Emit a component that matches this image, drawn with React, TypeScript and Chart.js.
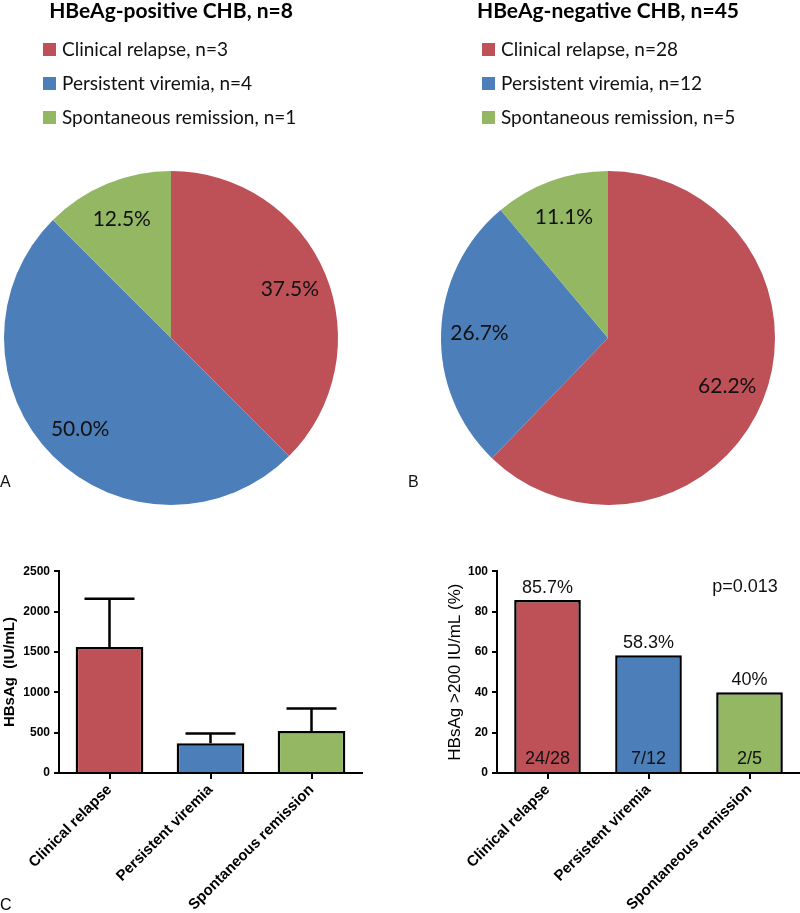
import React, { useEffect, useRef } from "react";
import { Chart, registerables } from "chart.js";

Chart.register(...registerables);

// ---------- data ----------
const groups = ["Clinical relapse", "Persistent viremia", "Spontaneous remission"];
const groupColors = ["#BE5057", "#4C7EBA", "#94B763"];

const posTitle = "HBeAg-positive CHB, n=8";
const posCounts = [3, 4, 1];
const negTitle = "HBeAg-negative CHB, n=45";
const negCounts = [28, 12, 5];

const hbsagMean = [1560, 370, 520];
const hbsagUpper = [2160, 490, 800];
const hbsagTicks = [0, 500, 1000, 1500, 2000, 2500];
const hbsagAxisTitle = "HBsAg  (IU/mL)";

const pctHigh = [85.7, 58.3, 40];
const pctLabels = ["85.7%", "58.3%", "40%"];
const fractionLabels = ["24/28", "7/12", "2/5"];
const pctTicks = [0, 20, 40, 60, 80, 100];
const pctAxisTitle = "HBsAg >200 IU/mL (%)";
const pValueText = "p=0.013";

const ARIAL = "'Liberation Sans', Arial, sans-serif";
const CALIBRI = "Lato, 'Open Sans', sans-serif";

Chart.defaults.font.family = ARIAL;
Chart.defaults.color = "#000";

// ---------- pie ----------
function PieChart(props: {
  left: number;
  title: string;
  counts: number[];
  legendX: number;
  padLeft: number;
  padRight: number;
  letter: string;
  letterX: number;
}) {
  const ref = useRef<HTMLCanvasElement>(null);
  useEffect(() => {
    const { title, counts, legendX, padLeft, padRight, letter, letterX } = props;
    const total = counts.reduce((a, b) => a + b, 0);
    const chart = new Chart(ref.current as HTMLCanvasElement, {
      type: "pie",
      data: {
        labels: groups,
        datasets: [{ data: counts, backgroundColor: groupColors, borderWidth: 0 }],
      },
      options: {
        responsive: false,
        animation: false,
        layout: { padding: { left: padLeft, right: padRight, top: 171, bottom: 55 } },
        plugins: { legend: { display: false }, tooltip: { enabled: false } },
      },
      plugins: [
        {
          id: "pieText",
          afterDraw(c: any) {
            const ctx = c.ctx;
            const ca = c.chartArea;
            const cx = (ca.left + ca.right) / 2;
            ctx.save();
            ctx.fillStyle = "#000";
            ctx.textBaseline = "middle";
            ctx.textAlign = "center";
            ctx.font = `bold 21px ${CALIBRI}`;
            ctx.fillText(title, cx, 11);
            ctx.textAlign = "left";
            ctx.font = `19px ${CALIBRI}`;
            groups.forEach((g, i) => {
              const y = 49 + i * 34;
              ctx.fillStyle = groupColors[i];
              ctx.fillRect(legendX, y - 6, 13, 13);
              ctx.fillStyle = "#111";
              ctx.fillText(`${g}, n=${counts[i]}`, legendX + 19, y + 1);
            });
            ctx.textAlign = "center";
            ctx.font = `21px ${CALIBRI}`;
            const meta = c.getDatasetMeta(0);
            meta.data.forEach((arc: any, i: number) => {
              const p = arc.getProps(["startAngle", "endAngle", "outerRadius", "x", "y"], true);
              const mid = (p.startAngle + p.endAngle) / 2;
              const r = p.outerRadius * 0.77;
              const pct = ((counts[i] / total) * 100).toFixed(1) + "%";
              ctx.fillStyle = "#111";
              ctx.fillText(pct, p.x + Math.cos(mid) * r, p.y + Math.sin(mid) * r);
            });
            ctx.textAlign = "left";
            ctx.font = `16px ${ARIAL}`;
            ctx.fillText(letter, letterX, 483);
            ctx.restore();
          },
        },
      ],
    } as any);
    return () => chart.destroy();
  }, []);
  return (
    <canvas
      ref={ref}
      width={400}
      height={560}
      style={{ position: "absolute", left: props.left, top: 0, width: 400, height: 560 }}
    />
  );
}

// ---------- bars ----------
const tickFont = { family: ARIAL, size: 12, weight: "bold" as const };
const xLabelFont = { family: ARIAL, size: 15, weight: "bold" as const };

function xScale() {
  return {
    type: "category",
    offset: true,
    z: 1,
    grid: {
      display: true,
      drawOnChartArea: false,
      drawTicks: true,
      tickLength: 6,
      color: "#000",
      lineWidth: 2,
      offset: false,
    },
    border: { display: true, color: "#000", width: 2 },
    ticks: {
      color: "#000",
      font: xLabelFont,
      minRotation: 45,
      maxRotation: 45,
      autoSkip: false,
      padding: 2,
    },
    afterFit: (s: any) => {
      s.height = 140;
    },
  };
}

function yScale(max: number, ticks: number[], title: string, titleFont: any, titlePad: number, width: number) {
  return {
    min: 0,
    max,
    z: 1,
    afterBuildTicks: (s: any) => {
      s.ticks = ticks.map((v) => ({ value: v }));
    },
    grid: {
      display: true,
      drawOnChartArea: false,
      drawTicks: true,
      tickLength: 5,
      color: "#000",
      lineWidth: 2,
    },
    border: { display: true, color: "#000", width: 2 },
    ticks: { color: "#000", font: tickFont, padding: 4, callback: (v: any) => String(v) },
    title: {
      display: true,
      text: title,
      color: "#000",
      font: titleFont,
      padding: { top: titlePad, bottom: 0 },
    },
    afterFit: (s: any) => {
      s.width = width;
    },
  };
}

function HbsagChart() {
  const ref = useRef<HTMLCanvasElement>(null);
  useEffect(() => {
    const chart = new Chart(ref.current as HTMLCanvasElement, {
      type: "bar",
      data: {
        labels: groups,
        datasets: [
          {
            data: hbsagMean,
            backgroundColor: groupColors,
            borderColor: "#000",
            borderWidth: 2.5,
            barPercentage: 0.67,
            categoryPercentage: 1,
          },
        ],
      },
      options: {
        responsive: false,
        animation: false,
        layout: { padding: { left: 0, right: 38, top: 8, bottom: 0 } },
        plugins: { legend: { display: false }, tooltip: { enabled: false } },
        scales: {
          x: xScale(),
          y: yScale(2500, hbsagTicks, hbsagAxisTitle, { family: ARIAL, size: 15, weight: "bold" }, 1, 59),
        },
      },
      plugins: [
        {
          id: "errorBars",
          afterDatasetsDraw(c: any) {
            const ctx = c.ctx;
            const y = c.scales.y;
            const meta = c.getDatasetMeta(0);
            ctx.save();
            ctx.strokeStyle = "#000";
            ctx.lineWidth = 2.5;
            meta.data.forEach((bar: any, i: number) => {
              const x = bar.x;
              const yTop = y.getPixelForValue(hbsagUpper[i]);
              const yBar = y.getPixelForValue(hbsagMean[i]);
              ctx.beginPath();
              ctx.moveTo(x, yBar);
              ctx.lineTo(x, yTop);
              ctx.moveTo(x - 25, yTop);
              ctx.lineTo(x + 25, yTop);
              ctx.stroke();
            });
            ctx.fillStyle = "#000";
            ctx.font = `16px ${ARIAL}`;
            ctx.textBaseline = "middle";
            ctx.textAlign = "left";
            ctx.fillText("C", 0, 346);
            ctx.restore();
          },
        },
      ],
    } as any);
    return () => chart.destroy();
  }, []);
  return (
    <canvas
      ref={ref}
      width={400}
      height={353}
      style={{ position: "absolute", left: 0, top: 560, width: 400, height: 353 }}
    />
  );
}

function PctChart() {
  const ref = useRef<HTMLCanvasElement>(null);
  useEffect(() => {
    const chart = new Chart(ref.current as HTMLCanvasElement, {
      type: "bar",
      data: {
        labels: groups,
        datasets: [
          {
            data: pctHigh,
            backgroundColor: groupColors,
            borderColor: "#000",
            borderWidth: 2.5,
            barPercentage: 0.66,
            categoryPercentage: 1,
          },
        ],
      },
      options: {
        responsive: false,
        animation: false,
        layout: { padding: { left: 0, right: 0, top: 8, bottom: 0 } },
        plugins: { legend: { display: false }, tooltip: { enabled: false } },
        scales: {
          x: xScale(),
          y: yScale(100, pctTicks, pctAxisTitle, { family: ARIAL, size: 17, weight: "normal" }, 45, 97),
        },
      },
      plugins: [
        {
          id: "barText",
          afterDatasetsDraw(c: any) {
            const ctx = c.ctx;
            const y = c.scales.y;
            const meta = c.getDatasetMeta(0);
            const y0 = y.getPixelForValue(0);
            ctx.save();
            ctx.fillStyle = "#111";
            ctx.font = `18px ${ARIAL}`;
            ctx.textAlign = "center";
            ctx.textBaseline = "alphabetic";
            meta.data.forEach((bar: any, i: number) => {
              ctx.fillText(pctLabels[i], bar.x, bar.y - 7);
              ctx.fillText(fractionLabels[i], bar.x, y0 - 9);
            });
            ctx.fillText(pValueText, c.chartArea.right - 55, y.getPixelForValue(100) + 21);
            ctx.restore();
          },
        },
      ],
    } as any);
    return () => chart.destroy();
  }, []);
  return (
    <canvas
      ref={ref}
      width={400}
      height={353}
      style={{ position: "absolute", left: 400, top: 560, width: 400, height: 353 }}
    />
  );
}

export default function App() {
  return (
    <div
      style={{
        position: "absolute",
        left: 0,
        top: 0,
        width: 800,
        height: 913,
        background: "#fff",
        overflow: "hidden",
      }}
    >
      <PieChart
        left={0}
        title={posTitle}
        counts={posCounts}
        legendX={43}
        padLeft={4}
        padRight={62}
        letter="A"
        letterX={0}
      />
      <PieChart
        left={400}
        title={negTitle}
        counts={negCounts}
        legendX={82}
        padLeft={41}
        padRight={25}
        letter="B"
        letterX={8}
      />
      <HbsagChart />
      <PctChart />
    </div>
  );
}
